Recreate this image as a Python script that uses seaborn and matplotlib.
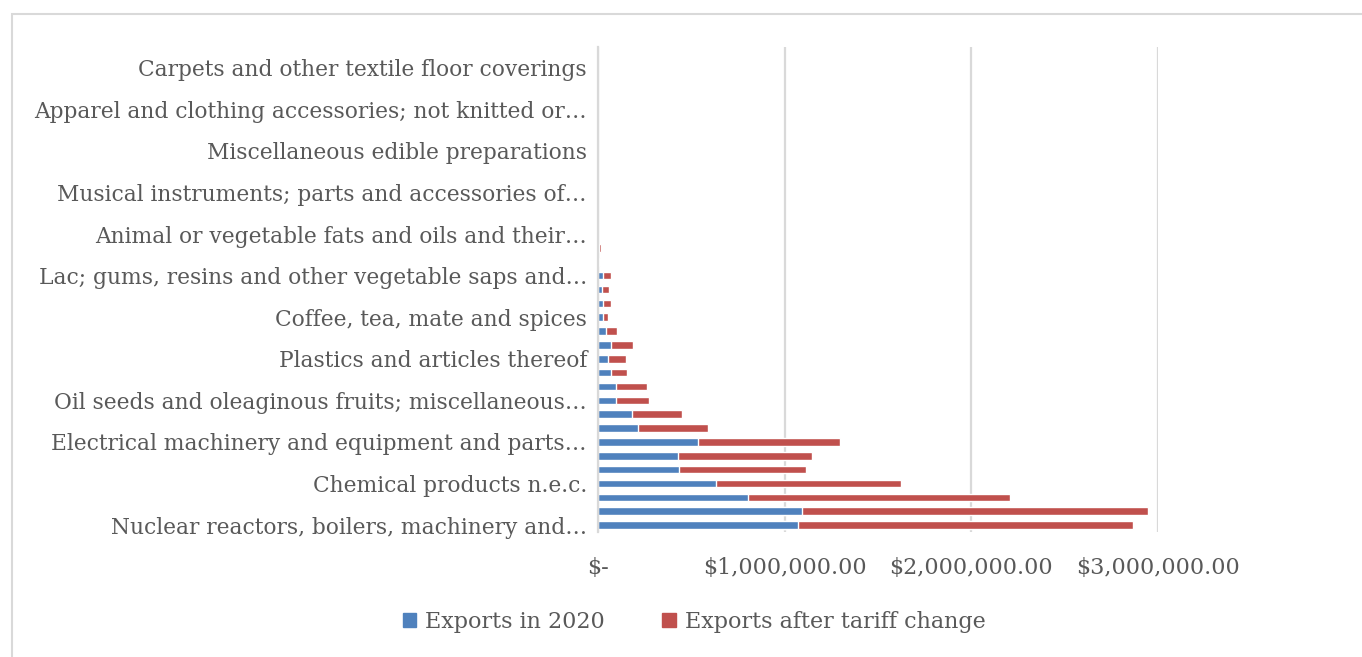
import matplotlib
matplotlib.use("Agg")
import matplotlib.pyplot as plt
import matplotlib.patches as mpatches
from matplotlib.ticker import FuncFormatter
import pandas as pd
import seaborn as sns

# ---- data (USD) ----
categories = [
    "Nuclear reactors, boilers, machinery and…",
    "Vehicles; other than railway or tramway rolling stock…",
    "Pharmaceutical products",
    "Chemical products n.e.c.",
    "Optical, photographic, cinematographic, measuring…",
    "Articles of iron or steel",
    "Electrical machinery and equipment and parts…",
    "Organic chemicals",
    "Beverages, spirits and vinegar",
    "Oil seeds and oleaginous fruits; miscellaneous…",
    "Essential oils and resinoids; perfumery…",
    "Paper and paperboard",
    "Plastics and articles thereof",
    "Rubber and articles thereof",
    "Preparations of cereals, flour, starch or milk",
    "Coffee, tea, mate and spices",
    "Edible fruit and nuts",
    "Furniture; bedding, mattresses…",
    "Lac; gums, resins and other vegetable saps and…",
    "Tools, implements, cutlery…",
    "Toys, games and sports requisites…",
    "Animal or vegetable fats and oils and their…",
    "Articles of leather; saddlery and harness…",
    "Ceramic products",
    "Musical instruments; parts and accessories of…",
    "Glass and glassware",
    "Footwear; gaiters and the like…",
    "Miscellaneous edible preparations",
    "Cocoa and cocoa preparations",
    "Wood and articles of wood; wood charcoal",
    "Apparel and clothing accessories; not knitted or…",
    "Apparel and clothing accessories; knitted or crocheted",
    "Soap, organic surface-active agents…",
    "Carpets and other textile floor coverings",
    "Works of art; collectors' pieces and antiques",
]
shown_labels = [
    "Nuclear reactors, boilers, machinery and…",
    "Chemical products n.e.c.",
    "Electrical machinery and equipment and parts…",
    "Oil seeds and oleaginous fruits; miscellaneous…",
    "Plastics and articles thereof",
    "Coffee, tea, mate and spices",
    "Lac; gums, resins and other vegetable saps and…",
    "Animal or vegetable fats and oils and their…",
    "Musical instruments; parts and accessories of…",
    "Miscellaneous edible preparations",
    "Apparel and clothing accessories; not knitted or…",
    "Carpets and other textile floor coverings",
]
exports_2020 = [
    1072000, 1093000, 804000, 631000, 436000, 428000, 536000, 214000, 182000,
    97000, 97000, 68000, 54000, 68000, 41000, 25000, 25000, 21000, 29000,
    3000, 3000, 600, 500, 400, 400, 300, 300, 250, 200, 200, 150, 150, 100,
    100, 80,
]
exports_after_change = [
    1795000, 1854000, 1401000, 991000, 676000, 720000, 758000, 377000, 268000,
    176000, 164000, 88000, 96000, 118000, 61000, 30000, 43000, 38000, 39000,
    9500, 13000, 1500, 1200, 1000, 900, 800, 700, 600, 500, 450, 400, 350,
    300, 250, 200,
]
series_names = ["Exports in 2020", "Exports after tariff change"]

df = pd.DataFrame({
    "category": categories,
    "base": exports_2020,
    "total": [a + b for a, b in zip(exports_2020, exports_after_change)],
})

BLUE = "#4F81BD"
RED = "#C0504D"
GRID = "#D9D9D9"
TXT = "#595959"

sns.set_theme(style="white")
plt.rcParams["font.family"] = ["DejaVu Serif", "DejaVu Sans"]

fig = plt.figure(figsize=(13.62, 6.57), dpi=100)
ax = fig.add_axes([598 / 1362, 1 - 532 / 657, (1158 - 598) / 1362, (532 - 47) / 657])

sns.barplot(data=df, x="total", y="category", order=categories, color=RED,
            width=0.55, saturation=1, ax=ax, orient="h")
sns.barplot(data=df, x="base", y="category", order=categories, color=BLUE,
            width=0.55, saturation=1, ax=ax, orient="h")

ax.set_ylim(-0.5, len(categories) - 0.5)
ax.set_xlim(0, 3000000)
ax.set_xticks([0, 1000000, 2000000, 3000000])
ax.xaxis.set_major_formatter(FuncFormatter(lambda v, p: "$-" if v == 0 else f"${v:,.2f}"))
ax.set_yticks([categories.index(s) for s in shown_labels])
ax.set_yticklabels(shown_labels)
ax.set_xlabel("")
ax.set_ylabel("")

ax.grid(axis="x", color=GRID, linewidth=1.6)
ax.grid(axis="y", visible=False)
ax.set_axisbelow(True)
for s in ["top", "right", "bottom"]:
    ax.spines[s].set_visible(False)
ax.spines["left"].set_color(GRID)
ax.spines["left"].set_linewidth(1.6)
ax.tick_params(axis="both", length=0, colors=TXT)
ax.tick_params(axis="y", pad=8, labelsize=15.7)
ax.tick_params(axis="x", pad=18, labelsize=16)

handles = [mpatches.Patch(color=BLUE, label=series_names[0]),
           mpatches.Patch(color=RED, label=series_names[1])]
leg = fig.legend(handles=handles, loc="center", bbox_to_anchor=(694 / 1362, 1 - 622 / 657),
                 ncol=2, frameon=False, fontsize=16, handlelength=0.6, handleheight=0.6,
                 handletextpad=0.4, columnspacing=2.6)
for t in leg.get_texts():
    t.set_color(TXT)

# chart frame
fig.patches.append(mpatches.Rectangle((12 / 1362, -0.1), 1.2, 1 - 14 / 657 + 0.1,
                                      transform=fig.transFigure, fill=False,
                                      edgecolor=GRID, linewidth=1.5))

fig.savefig("out.png", dpi=100)
